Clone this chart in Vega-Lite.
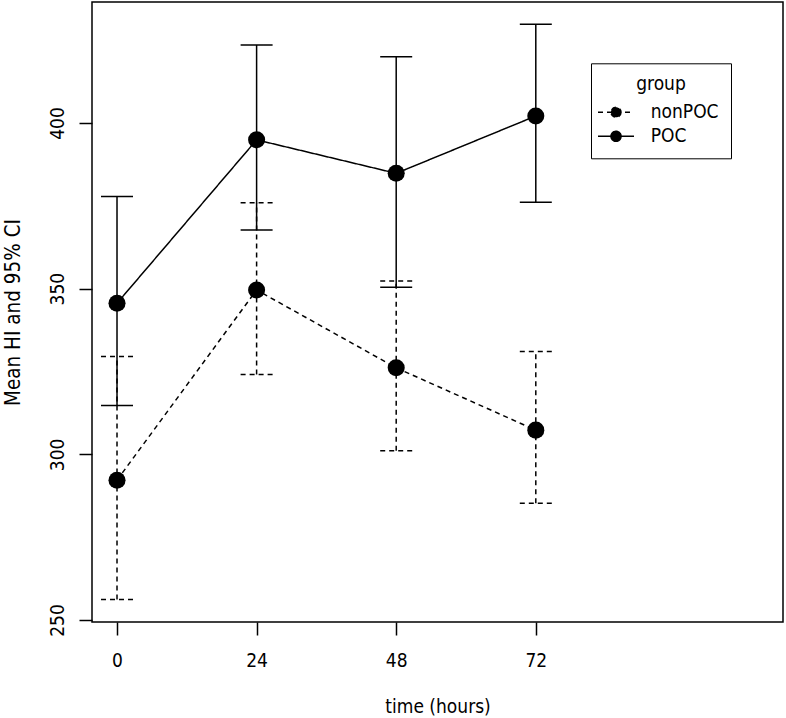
{
  "$schema": "https://vega.github.io/schema/vega-lite/v6.json",
  "width": 691,
  "height": 620,
  "autosize": {"type": "none"},
  "padding": {"left": 92, "top": 2, "right": 3, "bottom": 96},
  "background": "white",
  "config": {
    "font": "DejaVu Sans Condensed",
    "view": {"stroke": "black", "strokeWidth": 1.5},
    "axis": {
      "domain": false,
      "grid": false,
      "tickColor": "black",
      "tickWidth": 1.5,
      "tickSize": 13,
      "labelColor": "black",
      "labelFontSize": 19,
      "labelFont": "DejaVu Sans Condensed",
      "titleFont": "DejaVu Sans Condensed",
      "titleFontSize": 19,
      "titleColor": "black",
      "titleFontWeight": "normal",
      "labelFlush": false,
      "labelOverlap": false
    },
    "axisX": {"labelPadding": 16.5, "titlePadding": 27},
    "axisY": {"labelAngle": 270, "labelAlign": "center", "labelBaseline": "bottom", "labelPadding": 11.5, "titlePadding": 25.5, "titleFontSize": 20.5}
  },
  "data": {
    "values": [
      {"group": "POC", "time": 0, "mean": 345.6, "lower": 314.7, "upper": 377.8},
      {"group": "POC", "time": 24, "mean": 394.9, "lower": 367.7, "upper": 423.5},
      {"group": "POC", "time": 48, "mean": 384.8, "lower": 350.4, "upper": 420.0},
      {"group": "POC", "time": 72, "mean": 402.1, "lower": 376.1, "upper": 429.8},
      {"group": "nonPOC", "time": 0, "mean": 292.2, "lower": 256.2, "upper": 329.5},
      {"group": "nonPOC", "time": 24, "mean": 349.6, "lower": 324.1, "upper": 375.9},
      {"group": "nonPOC", "time": 48, "mean": 326.1, "lower": 301.1, "upper": 352.3},
      {"group": "nonPOC", "time": 72, "mean": 307.3, "lower": 285.2, "upper": 331.0}
    ]
  },
  "encoding": {
    "x": {
      "field": "time",
      "type": "quantitative",
      "title": "time (hours)",
      "scale": {"domain": [-4.3, 114.5], "nice": false, "zero": false},
      "axis": {"values": [0, 24, 48, 72]}
    }
  },
  "layer": [
    {
      "mark": {"type": "line", "strokeWidth": 1.5, "color": "black"},
      "encoding": {
        "y": {"field": "mean", "type": "quantitative", "title": "Mean HI and 95% CI", "scale": {"domain": [249.4, 436.5], "nice": false, "zero": false}, "axis": {"values": [250, 300, 350, 400]}},
        "strokeDash": {
          "field": "group",
          "type": "nominal",
          "scale": {"domain": ["nonPOC", "POC"], "range": [[5, 4], [1, 0]]},
          "legend": {
            "orient": "none",
            "legendX": 499,
            "legendY": 61.3,
            "title": "group",
            "titleAnchor": "middle",
            "titleFont": "DejaVu Sans Condensed",
            "titleFontSize": 19,
            "titleFontWeight": "normal",
            "titleColor": "black",
            "titlePadding": 5,
            "labelFont": "DejaVu Sans Condensed",
            "labelFontSize": 19,
            "labelColor": "black",
            "labelOffset": 21.7,
            "symbolType": "M-1.5,0H1.5M0.42,0A0.42,0.42,0,1,1,-0.42,0A0.42,0.42,0,1,1,0.42,0Z",
            "symbolSize": 576,
            "symbolFillColor": "black",
            "symbolStrokeColor": "black",
            "symbolStrokeWidth": 1.5,
            "strokeColor": "black",
            "fillColor": "white",
            "padding": 12,
            "rowPadding": 1
          }
        },
        "detail": {"field": "group"}
      }
    },
    {
      "mark": {"type": "rule", "strokeWidth": 1.5, "color": "black"},
      "encoding": {
        "y": {"field": "lower", "type": "quantitative", "title": "Mean HI and 95% CI", "scale": {"domain": [249.4, 436.5], "nice": false, "zero": false}, "axis": {"values": [250, 300, 350, 400]}},
        "y2": {"field": "upper"},
        "strokeDash": {"field": "group", "type": "nominal", "scale": {"domain": ["nonPOC", "POC"], "range": [[5, 4], [1, 0]]}}
      }
    },
    {
      "mark": {"type": "rule", "strokeWidth": 1.5, "color": "black", "xOffset": 16, "x2Offset": -16},
      "encoding": {
        "x2": {"field": "time"},
        "y": {"field": "upper", "type": "quantitative", "title": "Mean HI and 95% CI", "scale": {"domain": [249.4, 436.5], "nice": false, "zero": false}, "axis": {"values": [250, 300, 350, 400]}},
        "strokeDash": {"field": "group", "type": "nominal", "scale": {"domain": ["nonPOC", "POC"], "range": [[5, 4], [1, 0]]}}
      }
    },
    {
      "mark": {"type": "rule", "strokeWidth": 1.5, "color": "black", "xOffset": 16, "x2Offset": -16},
      "encoding": {
        "x2": {"field": "time"},
        "y": {"field": "lower", "type": "quantitative", "title": "Mean HI and 95% CI", "scale": {"domain": [249.4, 436.5], "nice": false, "zero": false}, "axis": {"values": [250, 300, 350, 400]}},
        "strokeDash": {"field": "group", "type": "nominal", "scale": {"domain": ["nonPOC", "POC"], "range": [[5, 4], [1, 0]]}}
      }
    },
    {
      "mark": {"type": "point", "filled": true, "size": 290, "color": "black", "opacity": 1},
      "encoding": {
        "y": {"field": "mean", "type": "quantitative", "title": "Mean HI and 95% CI", "scale": {"domain": [249.4, 436.5], "nice": false, "zero": false}, "axis": {"values": [250, 300, 350, 400]}}
      }
    }
  ]
}
